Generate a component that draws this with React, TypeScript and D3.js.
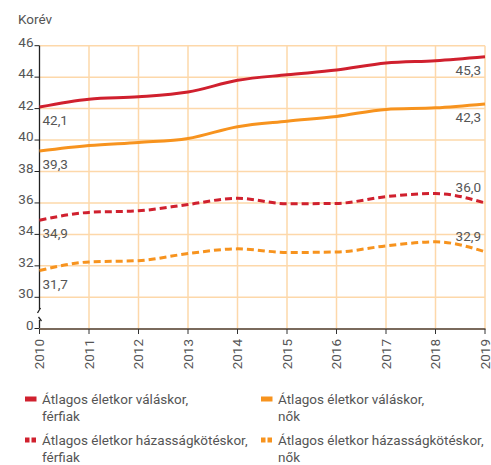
import * as d3 from "d3";

const years = [2010, 2011, 2012, 2013, 2014, 2015, 2016, 2017, 2018, 2019];
const divorceMen = [42.1, 42.6, 42.75, 43.05, 43.8, 44.15, 44.45, 44.9, 45.05, 45.3];
const divorceWomen = [39.3, 39.65, 39.85, 40.1, 40.85, 41.2, 41.5, 41.95, 42.05, 42.3];
const marriageMen = [34.9, 35.4, 35.5, 35.9, 36.3, 35.95, 35.97, 36.4, 36.6, 36.0];
const marriageWomen = [31.7, 32.25, 32.33, 32.78, 33.08, 32.85, 32.88, 33.27, 33.53, 32.9];
const yTicks = [0, 30, 32, 34, 36, 38, 40, 42, 44, 46];

const RED = "#d0202e";
const ORANGE = "#f7931e";
const GRID = "#fdd8aa";
const TEXT = "#555";
const FONT = "'Liberation Sans Narrow', Roboto, sans-serif";

const fmt = (v: number) => v.toFixed(1).replace(".", ",");

const series = [
  { name: "divorceMen", values: divorceMen, color: RED, dashed: false, endAbove: false },
  { name: "divorceWomen", values: divorceWomen, color: ORANGE, dashed: false, endAbove: false },
  { name: "marriageMen", values: marriageMen, color: RED, dashed: true, endAbove: true },
  { name: "marriageWomen", values: marriageWomen, color: ORANGE, dashed: true, endAbove: true },
];

const legend = [
  { lines: ["Átlagos életkor váláskor,", "férfiak"], color: RED, dashed: false },
  { lines: ["Átlagos életkor váláskor,", "nők"], color: ORANGE, dashed: false },
  { lines: ["Átlagos életkor házasságkötéskor,", "férfiak"], color: RED, dashed: true },
  { lines: ["Átlagos életkor házasságkötéskor,", "nők"], color: ORANGE, dashed: true },
];

export default function App() {
  const width = 491;
  const height = 465;
  const x = d3.scaleLinear().domain([2010, 2019]).range([39.5, 485]);
  // broken axis: 0 sits just below the 30 line
  const y = d3.scaleLinear().domain([0, 30, 46]).range([328.5, 297.3, 45.7]);
  const base = 329;
  const line = d3
    .line<number>()
    .x((_, i) => x(years[i]))
    .y((d) => y(d))
    .curve(d3.curveMonotoneX);

  return (
    <svg
      width={width}
      height={height}
      style={{ position: "absolute", left: 0, top: 0, fontFamily: FONT }}
    >
      <text x={18} y={24} fontSize={13.5} fill={TEXT}>
        Korév
      </text>

      {/* grid */}
      {yTicks
        .filter((t) => t >= 30)
        .map((t) => (
          <line key={"h" + t} x1={x(2010)} x2={x(2019)} y1={y(t)} y2={y(t)} stroke={GRID} strokeWidth={1.5} />
        ))}
      {years.slice(1).map((yr) => (
        <line key={"v" + yr} x1={x(yr)} x2={x(yr)} y1={y(46)} y2={base} stroke={GRID} strokeWidth={1.5} />
      ))}

      {/* y axis with break */}
      <line x1={x(2010)} x2={x(2010)} y1={y(46)} y2={309} stroke="#222" strokeWidth={1.3} />
      <line x1={x(2010) - 2} x2={x(2010) + 1} y1={313} y2={308} stroke="#222" strokeWidth={1.3} />
      <line x1={x(2010) - 1} x2={x(2010) + 2} y1={317} y2={321} stroke="#222" strokeWidth={1.3} />
      <line x1={x(2010)} x2={x(2010)} y1={320} y2={base} stroke="#222" strokeWidth={1.3} />
      {yTicks.map((t) => (
        <g key={"yt" + t}>
          <line x1={x(2010) - 5} x2={x(2010)} y1={y(t)} y2={y(t)} stroke="#222" strokeWidth={1} />
          <text x={x(2010) - 6} y={y(t) + 1} textAnchor="end" fontSize={13.5} fill={TEXT}>
            {t}
          </text>
        </g>
      ))}

      {/* x axis */}
      <line x1={x(2010) - 0.5} x2={x(2019) + 0.5} y1={base} y2={base} stroke="#7a6a5c" strokeWidth={2} />
      {years.map((yr) => (
        <g key={"xt" + yr} transform={`translate(${x(yr)},${base})`}>
          <line y1={0} y2={5} stroke="#333" strokeWidth={1} />
          <text
            transform="rotate(-90)"
            x={-10}
            dy="0.35em"
            textAnchor="end"
            fontSize={13.5}
            fill={TEXT}
          >
            {yr}
          </text>
        </g>
      ))}

      {/* series */}
      {series.map((s) => (
        <path
          key={s.name}
          d={line(s.values) ?? ""}
          fill="none"
          stroke={s.color}
          strokeWidth={3}
          strokeDasharray={s.dashed ? "7 4" : undefined}
        />
      ))}

      {/* value labels */}
      {series.map((s) => {
        const first = s.values[0];
        const last = s.values[s.values.length - 1];
        return (
          <g key={"lab" + s.name} fontSize={13.5} fill={TEXT}>
            <text x={x(2010) + 3} y={y(first) + 18}>
              {fmt(first)}
            </text>
            <text x={x(2019) - 4} y={s.endAbove ? y(last) - 11 : y(last) + 18} textAnchor="end">
              {fmt(last)}
            </text>
          </g>
        );
      })}

      {/* legend */}
      {legend.map((l, i) => {
        const lx = i % 2 === 0 ? 25 : 261;
        const ly = i < 2 ? 399 : 440;
        return (
          <g key={"lg" + i} transform={`translate(${lx},${ly})`}>
            {l.dashed ? (
              <>
                <rect x={0} y={-2.5} width={4.5} height={5} fill={l.color} />
                <rect x={6.5} y={-2.5} width={4.5} height={5} fill={l.color} />
              </>
            ) : (
              <rect x={0} y={-2.5} width={11.5} height={5} fill={l.color} />
            )}
            {l.lines.map((t, j) => (
              <text key={j} x={17} y={j * 17.5} dy="0.35em" fontSize={13.5} fill={TEXT}>
                {t}
              </text>
            ))}
          </g>
        );
      })}
    </svg>
  );
}
